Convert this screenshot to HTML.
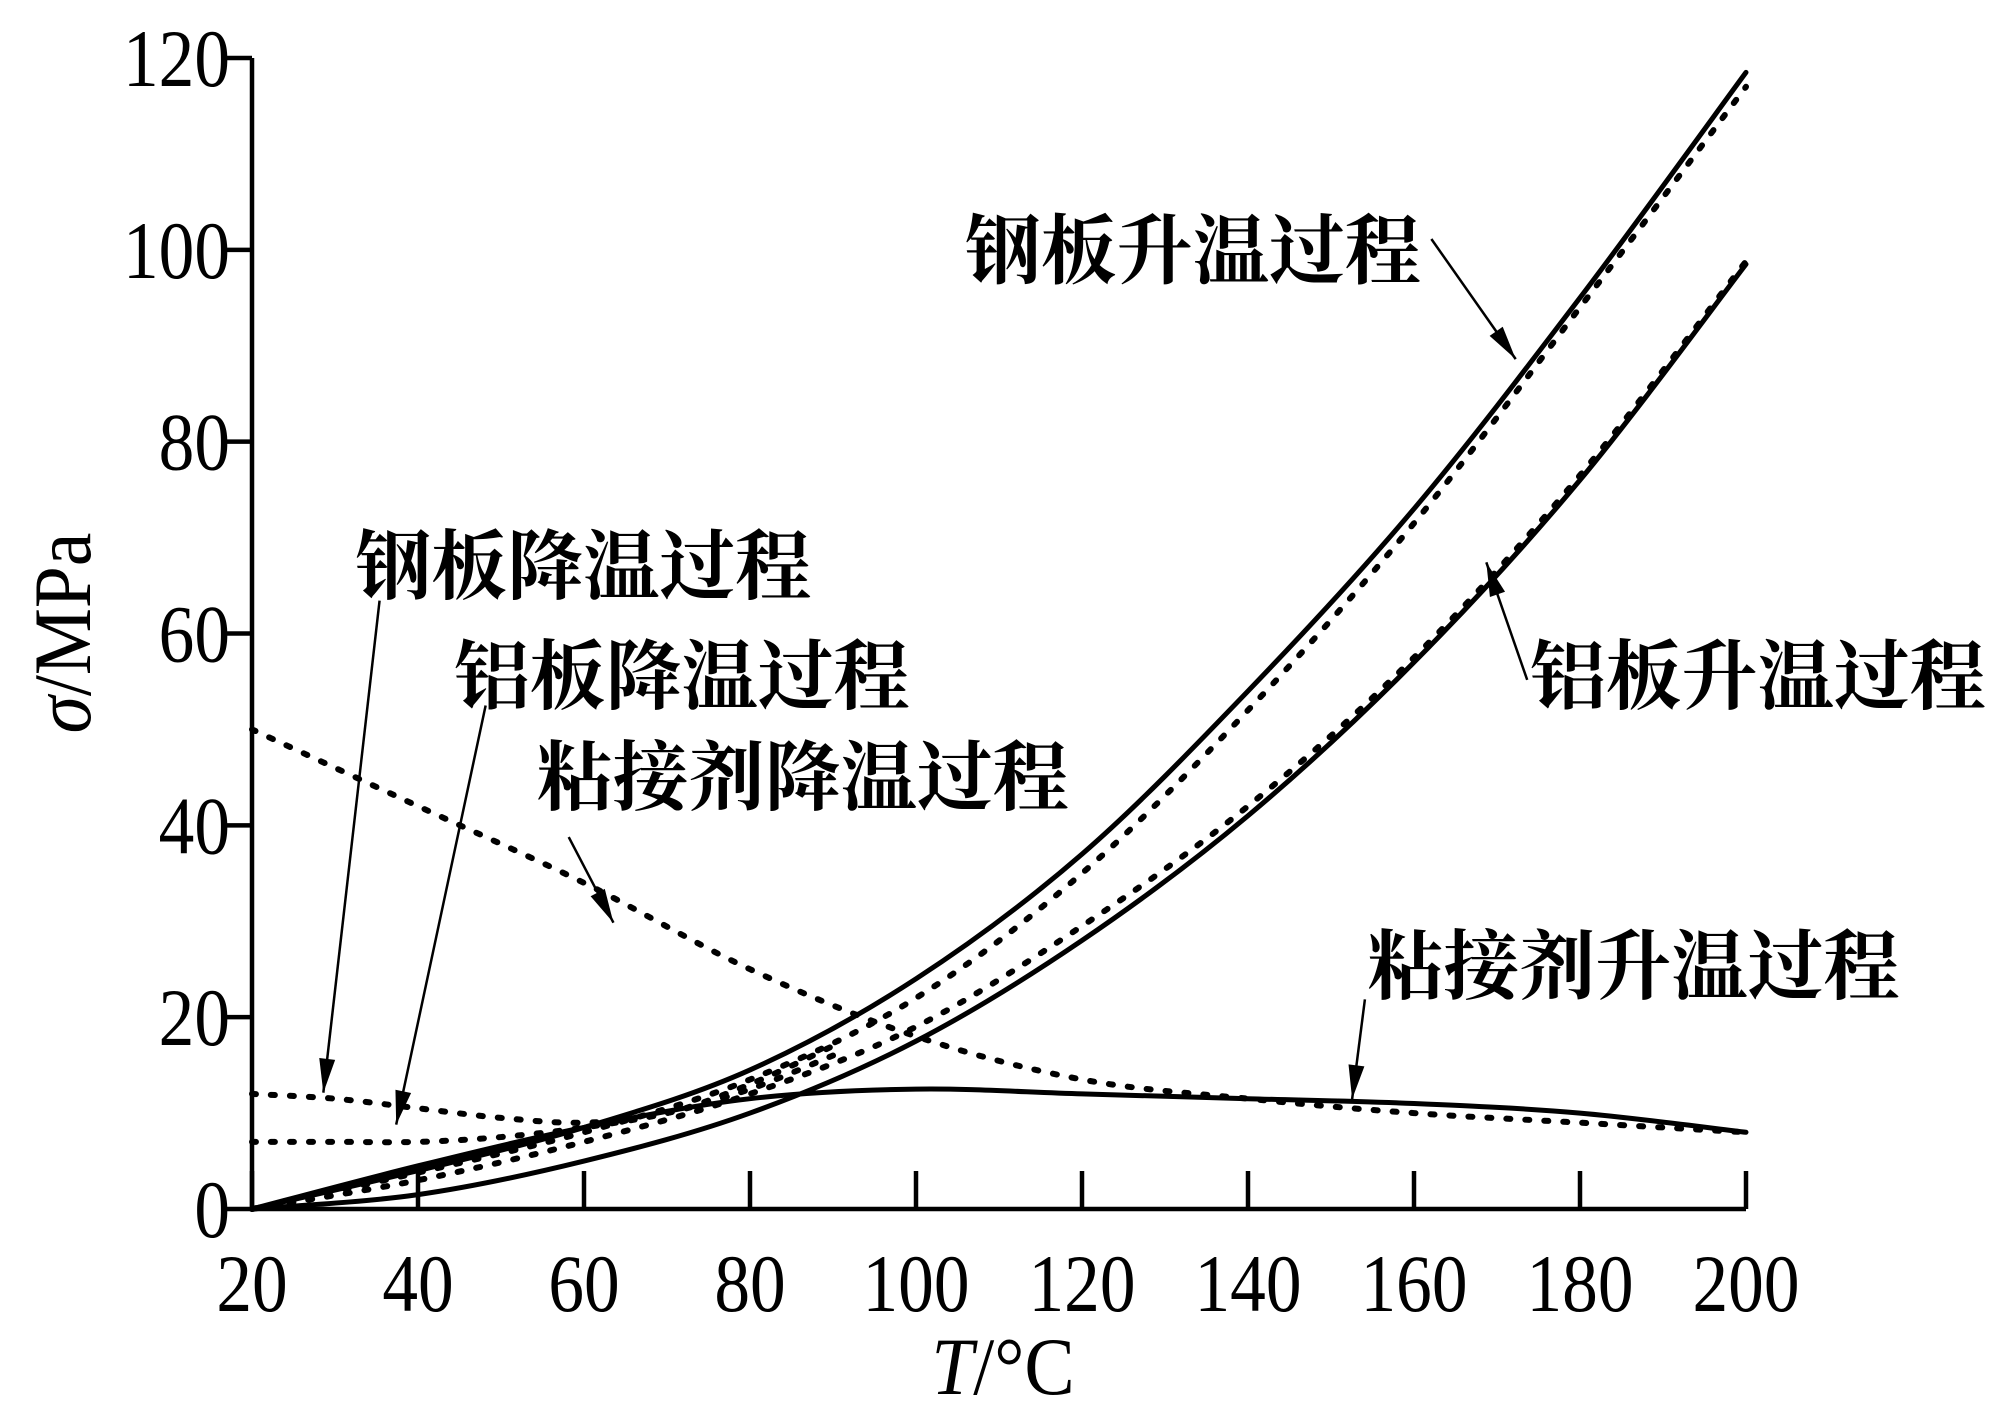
<!DOCTYPE html>
<html><head><meta charset="utf-8"><style>
html,body{margin:0;padding:0;background:#fff;}
svg{display:block;}
.tick{font-family:"Liberation Serif",serif;font-size:82px;fill:#000;}
.cn{font-family:"Liberation Serif","Noto Serif CJK SC",serif;font-size:76px;font-weight:700;fill:#000;}
</style></head><body>
<svg id="chart" width="2004" height="1412" viewBox="0 0 2004 1412" xmlns="http://www.w3.org/2000/svg">
<g id="axes"></g>
<g id="series"></g>
<g id="notes"></g>
</svg>
<script>
const xTicks = [20,40,60,80,100,120,140,160,180,200];
const yTicks = [0,20,40,60,80,100,120];
const xSteelHeat = [20,40,60,80,100,120,140,160,180,200];
const ySteelHeat = [0,4,8.5,14.5,24,37,54,73,95,118.5];
const xSteelHeatDot = [20,40,60,80,100,120,140,160,180,200];
const ySteelHeatDot = [0,3.8,8,13.5,22,35,52,71.5,94,117];
const xAlHeat = [20,40,60,80,100,120,140,160,180,200];
const yAlHeat = [0,1.5,5,10,17.5,28,41,57,76,98.5];
const xAlHeatDash = [20,40,60,80,100,120,140,160,180,200];
const yAlHeatDash = [0,3,7,12,19,29.5,42,57.5,76.5,98.8];
const xAdhHeat = [20,40,60,80,100,120,140,160,180,200];
const yAdhHeat = [0,4.5,8.5,11.5,12.5,12,11.5,11,10,8];
const xAdhCool = [20,40,60,80,100,120,140,160,180,200];
const yAdhCool = [50,42,34,25,18,13.5,11.5,10,9,8];
const xSteelCool = [20,30,40,50,60,70,80,90];
const ySteelCool = [12,11.5,10.5,9.5,9,10,13,17];
const xAlCool = [20,30,40,50,60,70,80,90];
const yAlCool = [7,7,7,7.5,8.5,10,12.5,16];

const X0=252,X1=1746,Y0=1209,Y1=58;
const sx=v=>X0+(v-20)/180*(X1-X0);
const sy=v=>Y0-v/120*(Y0-Y1);
const NS="http://www.w3.org/2000/svg";
function mk(tag,parent,attrs){const e=document.createElementNS(NS,tag);for(const k in attrs)e.setAttribute(k,attrs[k]);parent.appendChild(e);return e;}
const axes=document.getElementById('axes'),series=document.getElementById('series'),notes=document.getElementById('notes');

let a=mk('path',axes,{d:`M${X0},${Y1} L${X0},${Y0} L${X1},${Y0}`,fill:'none',stroke:'#000','stroke-width':4.5});


xTicks.forEach(t=>{
  const l=mk('line',axes,{x1:sx(t),x2:sx(t),y1:Y0,y2:Y0-38,stroke:'#000','stroke-width':4.5});
  
  
  const tx=mk('text',axes,{x:0,y:0,'text-anchor':'middle',class:'tick',transform:`translate(${sx(t)},${Y0+102}) scale(0.87,1)`});
  tx.textContent=t;
  
  
});
yTicks.forEach(t=>{
  const l=mk('line',axes,{x1:X0-25,x2:X0,y1:sy(t),y2:sy(t),stroke:'#000','stroke-width':4.5});
  
  
  const tx=mk('text',axes,{x:0,y:0,'text-anchor':'end',class:'tick',transform:`translate(${X0-22},${sy(t)+28}) scale(0.87,1)`});
  tx.textContent=t;
  
  
});
let yt=mk('text',axes,{x:0,y:0,'text-anchor':'middle',class:'tick',transform:`translate(90,633) rotate(-90) scale(0.92,1)`});
yt.innerHTML='<tspan font-style="italic">σ</tspan>/MPa';


let xt=mk('text',axes,{x:0,y:0,'text-anchor':'middle',class:'tick',transform:`translate(1003,1394) scale(0.92,1)`});
xt.innerHTML='<tspan font-style="italic">T</tspan>/°C';



function curve(xs,ys){
  const p=xs.map((x,i)=>[sx(x),sy(ys[i])]);
  let d=`M${p[0][0]},${p[0][1]}`;
  for(let i=0;i<p.length-1;i++){
    const p0=p[i-1]||p[i],p1=p[i],p2=p[i+1],p3=p[i+2]||p2;
    d+=` C${p1[0]+(p2[0]-p0[0])/6},${p1[1]+(p2[1]-p0[1])/6} ${p2[0]-(p3[0]-p1[0])/6},${p2[1]-(p3[1]-p1[1])/6} ${p2[0]},${p2[1]}`;
  }
  return d;
}
function line(xs,ys,dash,name){
  const attrs={d:curve(xs,ys),fill:'none',stroke:'#000','stroke-width':dash?6:5,'stroke-linecap':'round'};
  if(dash)attrs['stroke-dasharray']=dash;
  const e=mk('path',series,attrs);
  
  
}
line(xSteelHeat,ySteelHeat,null,'steel-heating-line');
line(xSteelHeatDot,ySteelHeatDot,'4 15','steel-heating-dotted-line');
line(xAlHeat,yAlHeat,null,'aluminum-heating-line');
line(xAlHeatDash,yAlHeatDash,'4 15','aluminum-heating-dotted-line');
line(xAdhHeat,yAdhHeat,null,'adhesive-heating-line');
line(xAdhCool,yAdhCool,'4 15','adhesive-cooling-line');
line(xSteelCool,ySteelCool,'4 15','steel-cooling-line');
line(xAlCool,yAlCool,'4 15','aluminum-cooling-line');

const S=1.278;
function label(txt,x,y,name){
  const t=mk('text',notes,{x:x*S,y:y*S,class:'cn'});
  t.textContent=txt;
  
  
}
function arrow(x1,y1,x2,y2,name){
  x1*=S;y1*=S;x2*=S;y2*=S;
  const g=mk('g',notes,{});
  
  
  mk('line',g,{x1,y1,x2,y2,stroke:'#000','stroke-width':2.5});
  const ang=Math.atan2(y2-y1,x2-x1),L=34,W=8;
  const bx=x2-L*Math.cos(ang),by=y2-L*Math.sin(ang);
  const px=-Math.sin(ang)*W,py=Math.cos(ang)*W;
  mk('polygon',g,{points:`${x2},${y2} ${bx+px},${by+py} ${bx-px},${by-py}`,fill:'#000'});
}
label('钢板升温过程',755,217,'label-steel-heating');
label('钢板降温过程',278,464,'label-steel-cooling');
label('铝板降温过程',355,550,'label-aluminum-cooling');
label('粘接剂降温过程',420,629,'label-adhesive-cooling');
label('铝板升温过程',1197,550,'label-aluminum-heating');
label('粘接剂升温过程',1070,777,'label-adhesive-heating');
arrow(1120,187,1186,281,'arrow-steel-heating');
arrow(1195,532,1163,440,'arrow-aluminum-heating');
arrow(297,470,253,855,'arrow-steel-cooling');
arrow(380,552,310,880,'arrow-aluminum-cooling');
arrow(445,655,480,722,'arrow-adhesive-cooling');
arrow(1068,782,1058,860,'arrow-adhesive-heating');
</script>
</body></html>
